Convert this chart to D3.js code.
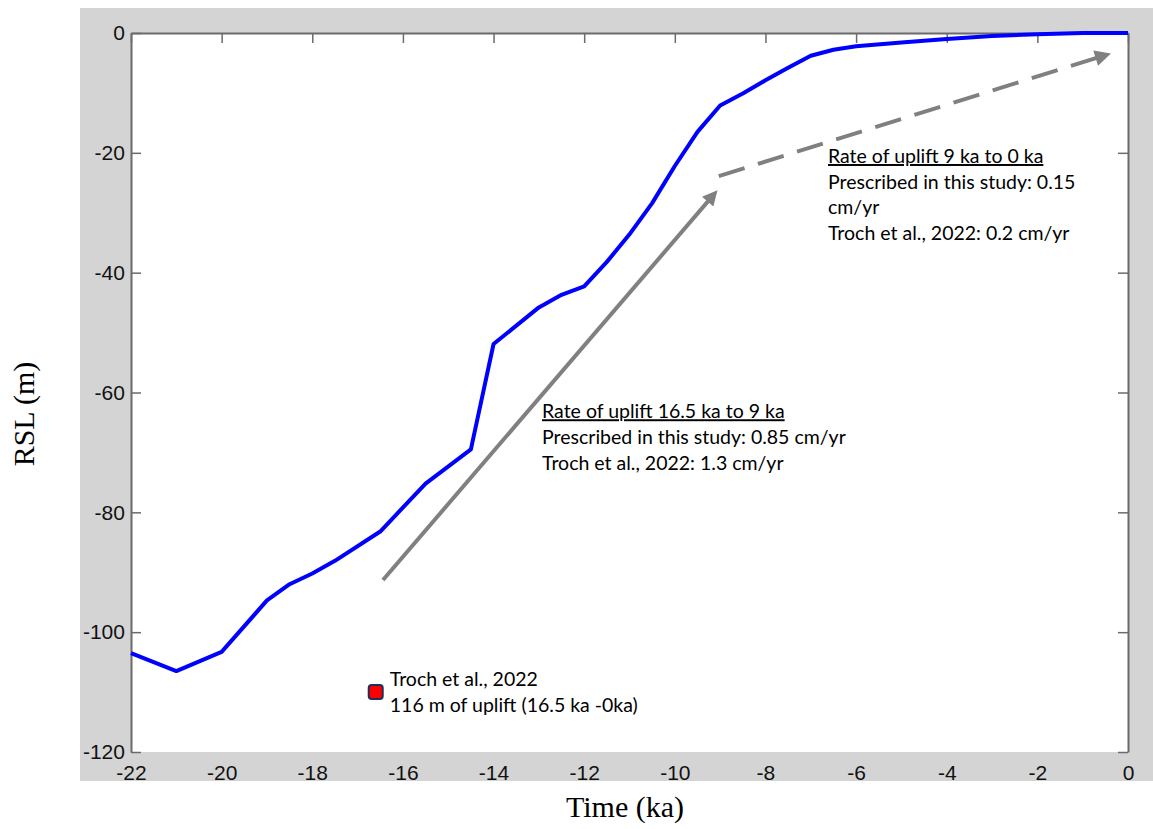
<!DOCTYPE html>
<html>
<head>
<meta charset="utf-8">
<script src="https://cdn.jsdelivr.net/npm/d3@7"></script>
<style>
  html, body { margin: 0; padding: 0; background: #fff; }
  svg { display: block; }
</style>
</head>
<body>
<svg id="chart" width="1153" height="829"></svg>
<script>
// --- Data ---
const TIME_KA = [-22, -21, -20, -19, -18.5, -18, -17.5, -16.5, -15.5, -14.5, -14, -13, -12.5, -12,
  -11.5, -11, -10.5, -10, -9.5, -9, -8.5, -8, -7.5, -7, -6.5, -6, -5, -4, -3, -2, -1, 0];
const RSL_M = [-103.5, -106.5, -103.3, -94.7, -92, -90.2, -88.1, -83.2, -75.2, -69.5, -51.9, -45.8, -43.7, -42.3,
  -38.2, -33.6, -28.4, -22.2, -16.5, -12.1, -10.1, -7.9, -5.8, -3.8, -2.8, -2.2, -1.6, -1.0, -0.5, -0.2, 0, 0];

const X_TICKS = [-22, -20, -18, -16, -14, -12, -10, -8, -6, -4, -2, 0];
const Y_TICKS = [0, -20, -40, -60, -80, -100, -120];

// Troch et al., 2022 point
const TROCH_POINT = [{ t: -16.6, rsl: -110 }];

// annotation arrows (data units)
const ARROW_SOLID = { from: [-16.44, -91.3], to: [-9.03, -26.0] };
const ARROW_DASHED = { from: [-9.03, -23.9], to: [-0.33, -3.3] };

const NOTE_EARLY = ["Rate of uplift 16.5 ka to 9 ka", "Prescribed in this study: 0.85 cm/yr", "Troch et al., 2022: 1.3 cm/yr"];
const NOTE_LATE = ["Rate of uplift 9 ka to 0 ka", "Prescribed in this study: 0.15", "cm/yr", "Troch et al., 2022: 0.2 cm/yr"];
const NOTE_POINT = ["Troch et al., 2022", "116 m of uplift (16.5 ka -0ka)"];

// --- Layout ---
const W = 1153, H = 829;
const plot = { left: 131, right: 1128, top: 33, bottom: 752 };
const frame = { x: 80, y: 8, w: W - 80, h: 773 };

const svg = d3.select("#chart");
const x = d3.scaleLinear().domain([-22, 0]).range([plot.left, plot.right]);
const y = d3.scaleLinear().domain([-120, 0]).range([plot.bottom, plot.top]);

const AXIS_COLOR = "#6b6b6b";
const ARROW_COLOR = "#808080";
const NOTE_FONT = "Lato, 'Open Sans', sans-serif";
const fmt = d => String(d); // plain hyphen minus, like the original

// Gray figure background
svg.append("rect").attr("width", W).attr("height", H).attr("fill", "#fff");
svg.append("rect")
  .attr("x", frame.x).attr("y", frame.y).attr("width", frame.w).attr("height", frame.h)
  .attr("fill", "#d4d4d4");

svg.append("defs").append("clipPath").attr("id", "frameClip")
  .append("rect").attr("x", frame.x).attr("y", frame.y).attr("width", frame.w).attr("height", frame.h);

// Plot area
svg.append("rect")
  .attr("x", plot.left).attr("y", plot.top)
  .attr("width", plot.right - plot.left).attr("height", plot.bottom - plot.top)
  .attr("fill", "#fff");

// --- Axes (box with inward ticks on all sides) ---
const tickLen = 10;
const axisFont = "'Liberation Sans', Arial, sans-serif";

const gBottom = svg.append("g").attr("transform", `translate(0,${plot.bottom})`)
  .attr("clip-path", "url(#frameClip)")
  .call(d3.axisBottom(x).tickValues(X_TICKS).tickSizeInner(-tickLen).tickSizeOuter(0).tickPadding(13).tickFormat(fmt));
const gTop = svg.append("g").attr("transform", `translate(0,${plot.top})`)
  .call(d3.axisTop(x).tickValues(X_TICKS).tickSizeInner(-tickLen).tickSizeOuter(0).tickFormat(""));
const gLeft = svg.append("g").attr("transform", `translate(${plot.left},0)`)
  .call(d3.axisLeft(y).tickValues(Y_TICKS).tickSizeInner(-tickLen).tickSizeOuter(0).tickPadding(5).tickFormat(fmt));
const gRight = svg.append("g").attr("transform", `translate(${plot.right},0)`)
  .call(d3.axisRight(y).tickValues(Y_TICKS).tickSizeInner(-tickLen).tickSizeOuter(0).tickFormat(""));

[gBottom, gTop, gLeft, gRight].forEach(g => {
  g.select(".domain").attr("stroke", AXIS_COLOR).attr("stroke-width", 2);
  g.selectAll(".tick line").attr("stroke", AXIS_COLOR).attr("stroke-width", 1.5);
  g.selectAll(".tick text")
    .attr("fill", "#111")
    .style("font-family", axisFont)
    .style("font-size", "21px");
});
gBottom.selectAll(".tick text").attr("dy", "0.71em").attr("y", 13);
gLeft.selectAll(".tick text").attr("dx", "-0.05em");

// Axis titles
svg.append("text")
  .attr("x", 625).attr("y", 817)
  .attr("text-anchor", "middle")
  .style("font-family", "'Liberation Serif', 'Times New Roman', serif")
  .style("font-size", "30px")
  .attr("fill", "#000")
  .text("Time (ka)");

svg.append("text")
  .attr("transform", "translate(34,414) rotate(-90)")
  .attr("text-anchor", "middle")
  .style("font-family", "'Liberation Serif', 'Times New Roman', serif")
  .style("font-size", "30px")
  .attr("fill", "#000")
  .text("RSL (m)");

// --- RSL curve ---
const line = d3.line().x((d, i) => x(TIME_KA[i])).y(d => y(d));
svg.append("path")
  .datum(RSL_M)
  .attr("d", line)
  .attr("fill", "none")
  .attr("stroke", "#0000ff")
  .attr("stroke-width", 4)
  .attr("stroke-linejoin", "round");

// --- Arrows ---
const defs = svg.append("defs");
defs.append("marker").attr("id", "headSolid")
  .attr("viewBox", "0 0 10 10").attr("refX", 2).attr("refY", 5)
  .attr("markerUnits", "userSpaceOnUse").attr("markerWidth", 17).attr("markerHeight", 15)
  .attr("orient", "auto")
  .append("path").attr("d", "M 0 0 L 10 5 L 0 10 z").attr("fill", ARROW_COLOR);
defs.append("marker").attr("id", "headDashed")
  .attr("viewBox", "0 0 10 10").attr("refX", 2).attr("refY", 5)
  .attr("markerUnits", "userSpaceOnUse").attr("markerWidth", 19).attr("markerHeight", 16)
  .attr("orient", "auto")
  .append("path").attr("d", "M 0 0 L 10 5 L 0 10 z").attr("fill", ARROW_COLOR);

function shorten(a, len) {
  // pull the end point back so the marker tip lands on the target
  const x1 = x(a.from[0]), y1 = y(a.from[1]), x2 = x(a.to[0]), y2 = y(a.to[1]);
  const ang = Math.atan2(y2 - y1, x2 - x1);
  return { x1, y1, x2: x2 - Math.cos(ang) * len, y2: y2 - Math.sin(ang) * len };
}

const s = shorten(ARROW_SOLID, 14);
svg.append("line")
  .attr("x1", s.x1).attr("y1", s.y1).attr("x2", s.x2).attr("y2", s.y2)
  .attr("stroke", ARROW_COLOR).attr("stroke-width", 4)
  .attr("marker-end", "url(#headSolid)");

const dsh = shorten(ARROW_DASHED, 15);
svg.append("line")
  .attr("x1", dsh.x1).attr("y1", dsh.y1).attr("x2", dsh.x2).attr("y2", dsh.y2)
  .attr("stroke", ARROW_COLOR).attr("stroke-width", 4)
  .attr("stroke-dasharray", "27,14")
  .attr("marker-end", "url(#headDashed)");

// --- Troch et al. point ---
svg.selectAll(".troch")
  .data(TROCH_POINT).join("rect")
  .attr("class", "troch")
  .attr("x", d => x(d.t) - 7).attr("y", d => y(d.rsl) - 7)
  .attr("width", 14).attr("height", 14)
  .attr("rx", 3)
  .attr("fill", "#ff0000")
  .attr("stroke", "#1f2f55").attr("stroke-width", 2);

// --- Notes ---
function note(lines, tx, ty, gap, underlineFirst) {
  const g = svg.append("g");
  g.selectAll("text")
    .data(lines).join("text")
    .attr("x", x(tx)).attr("y", (d, i) => y(ty) + i * gap)
    .style("font-family", NOTE_FONT)
    .style("font-size", "19.5px")
    .style("text-decoration", (d, i) => (underlineFirst && i === 0) ? "underline" : "none")
    .attr("fill", "#000")
    .text(d => d);
  return g;
}

note(NOTE_EARLY, -12.93, -64.3, 26, true);
note(NOTE_LATE, -6.62, -21.7, 25.7, true);
note(NOTE_POINT, -16.29, -109.0, 26, false);
</script>
</body>
</html>
